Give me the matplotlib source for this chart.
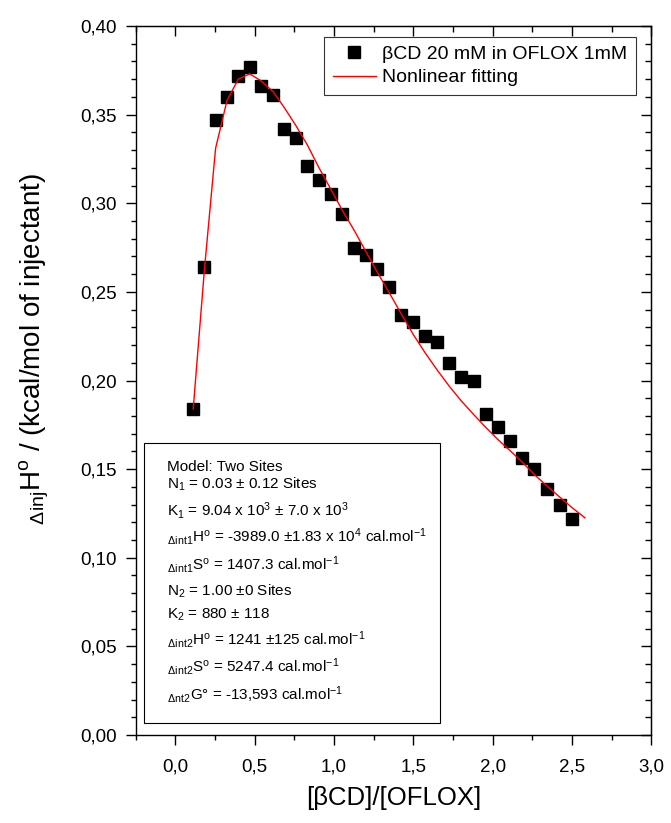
import matplotlib
matplotlib.use("Agg")
import matplotlib.pyplot as plt
from matplotlib.patches import Rectangle
from matplotlib.ticker import MultipleLocator, FuncFormatter

plt.rcParams["font.family"] = ["Liberation Sans", "DejaVu Sans"]
plt.rcParams["mathtext.default"] = "regular"

ratio = [0.112, 0.182, 0.253, 0.325, 0.396, 0.468, 0.541, 0.615, 0.686, 0.758,
         0.831, 0.905, 0.979, 1.052, 1.125, 1.199, 1.270, 1.348, 1.424, 1.499,
         1.575, 1.651, 1.726, 1.802, 1.880, 1.956, 2.032, 2.111, 2.187, 2.262,
         2.342, 2.422, 2.500]
heat = [0.184, 0.264, 0.347, 0.360, 0.372, 0.377, 0.366, 0.361, 0.342, 0.337,
        0.321, 0.313, 0.305, 0.294, 0.275, 0.271, 0.263, 0.253, 0.237, 0.233,
        0.225, 0.222, 0.210, 0.202, 0.200, 0.181, 0.174, 0.166, 0.156, 0.150,
        0.139, 0.130, 0.122]

# fitted curve
fit_x = ratio + [2.582]
fit_y = [0.184, 0.262, 0.331, 0.358, 0.370, 0.373, 0.369, 0.363, 0.354, 0.344,
         0.333, 0.320, 0.308, 0.296, 0.285, 0.273, 0.2615, 0.2495, 0.2375, 0.226,
         0.2155, 0.2058, 0.1968, 0.1885, 0.1808, 0.1736, 0.1668, 0.1603, 0.1539,
         0.147, 0.1405, 0.1343, 0.1283, 0.1225]

fit_lines = [
    "Model: Two Sites",
    "N$_1$ = 0.03 \u00b1 0.12 Sites",
    "K$_1$ = 9.04 x 10$^3$ \u00b1 7.0 x 10$^3$",
    "$_{\\Delta}$$_{int1}$H$^o$ = -3989.0 \u00b11.83 x 10$^4$ cal.mol$^{-1}$",
    "$_{\\Delta}$$_{int1}$S$^o$ = 1407.3 cal.mol$^{-1}$",
    "N$_2$ = 1.00 \u00b10 Sites",
    "K$_2$ = 880 \u00b1 118",
    "$_{\\Delta}$$_{int2}$H$^o$ = 1241 \u00b1125 cal.mol$^{-1}$",
    "$_{\\Delta}$$_{int2}$S$^o$ = 5247.4 cal.mol$^{-1}$",
    "$_{\\Delta}$$_{nt2}$G\u00b0 = -13,593 cal.mol$^{-1}$",
]
line_y = [0.3728, 0.3470, 0.3089, 0.2726, 0.2327, 0.1965, 0.1646, 0.1269, 0.0893, 0.0494]

fig = plt.figure(figsize=(6.71, 8.23), dpi=100)
ax = fig.add_axes([135.8 / 671, 1 - 735 / 823, 515.5 / 671, 709 / 823])

ax.plot(ratio, heat, "s", color="black", markersize=8, label="\u03b2CD 20 mM in OFLOX 1mM")
ax.plot(fit_x, fit_y, "-", color="red", linewidth=1, label="Nonlinear fitting")

ax.set_xlim(-0.25, 3.0)
ax.set_ylim(0, 0.40)
ax.xaxis.set_major_locator(MultipleLocator(0.5))
ax.xaxis.set_minor_locator(MultipleLocator(0.25))
ax.yaxis.set_major_locator(MultipleLocator(0.05))
ax.yaxis.set_minor_locator(MultipleLocator(0.01))
ax.xaxis.set_major_formatter(FuncFormatter(lambda v, p: f"{v:.1f}".replace(".", ",")))
ax.yaxis.set_major_formatter(FuncFormatter(lambda v, p: f"{v:.2f}".replace(".", ",")))
ax.tick_params(which="major", direction="out", length=7.2, width=1, labelsize=13.5)
ax.tick_params(axis="y", which="major", pad=6.5)
ax.tick_params(axis="x", which="major", pad=10)
ax.tick_params(which="minor", direction="out", length=3.8, width=1)
for s in ax.spines.values():
    s.set_linewidth(1)

# inward ticks on top and right
top = ax.secondary_xaxis("top")
top.xaxis.set_major_locator(MultipleLocator(0.5))
top.xaxis.set_minor_locator(MultipleLocator(0.25))
top.tick_params(which="major", direction="in", length=7.2, width=1, labeltop=False)
top.tick_params(which="minor", direction="in", length=4, width=1)
right = ax.secondary_yaxis("right")
right.yaxis.set_major_locator(MultipleLocator(0.05))
right.yaxis.set_minor_locator(MultipleLocator(0.01))
right.tick_params(which="major", direction="in", length=7.2, width=1, labelright=False)
right.tick_params(which="minor", direction="in", length=4, width=1)

ax.set_xlabel("[\u03b2CD]/[OFLOX]", fontsize=18.5, labelpad=7)
ax.set_ylabel("$_{\\Delta}$$_{inj}$H$^o$ / (kcal/mol of injectant)", fontsize=20)
ax.yaxis.set_label_coords(-0.165, 0.545)

leg = ax.legend(loc="upper right", bbox_to_anchor=(0.9703, 0.985), borderaxespad=0,
                fontsize=14, frameon=True, fancybox=False, handlelength=2.25,
                handletextpad=0.3, labelspacing=0.3, borderpad=0.45, numpoints=1)
leg.get_frame().set_edgecolor("black")
leg.get_frame().set_linewidth(0.8)

ax.add_patch(Rectangle((0.0159, 0.0165), 0.5748, 0.3953, transform=ax.transAxes,
                       fill=False, edgecolor="black", linewidth=0.8, zorder=3))
for txt, yy in zip(fit_lines, line_y):
    ax.text(0.0611, yy, txt, transform=ax.transAxes, fontsize=11, va="baseline", ha="left")

fig.savefig("out.png", dpi=100)
